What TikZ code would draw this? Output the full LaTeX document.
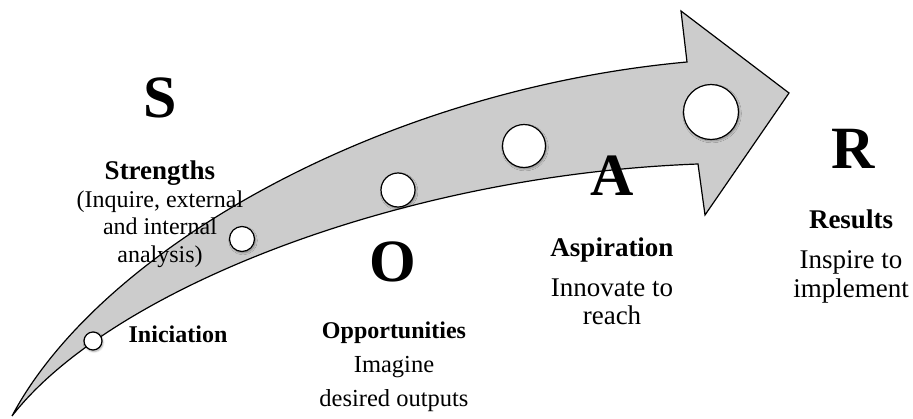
\documentclass[tikz,border=0pt]{standalone}
\usepackage{fontspec}
\setmainfont{Liberation Serif}
\usetikzlibrary{shadows.blur}
\definecolor{bodygray}{HTML}{CCCCCC}

\begin{document}
\begin{tikzpicture}[x=1pt, y=-1pt,
  body/.style={draw, line width=1.2pt, fill=bodygray, line join=miter},
  dot/.style={circle, draw, line width=1.2pt, fill=white, inner sep=0pt,
    blur shadow={shadow xshift=1pt, shadow yshift=-1.5pt, shadow blur steps=6, shadow opacity=35}},
  letter/.style={font=\fontsize{60}{60}\selectfont\bfseries, inner sep=0pt, anchor=base},
  title/.style={font=\fontsize{27}{30}\selectfont\bfseries, inner sep=0pt, anchor=base},
  desc/.style={inner sep=0pt, anchor=base, align=center}
]
  \useasboundingbox (0,0) rectangle (913,418);
  % curved arrow
  \draw[body] (12,416) .. controls (100,250) and (380,90) .. (687,62) -- (681,11) -- (789,93)
    -- (705,215) -- (698,164) .. controls (400,175) and (110,290) .. (12,416) -- cycle;
  % steps on the arrow
  \node[dot, minimum size=18pt] (d1) at (93,341) {};
  \node[dot, minimum size=25pt] (d2) at (242,239) {};
  \node[dot, minimum size=34pt] (d3) at (398,190) {};
  \node[dot, minimum size=43pt] (d4) at (524,146) {};
  \node[dot, minimum size=55pt] (d5) at (711,112) {};
  % S (base of a multi-line node = its last line)
  \node[letter] (s) at (160,117) {S};
  \node[title] (sT) at (160,179) {Strengths};
  \node[desc, font=\fontsize{24}{27.5}\selectfont] (sD) at (160,262) {(Inquire, external\\and internal\\analysis)};
  \node[title, font=\fontsize{24}{27}\selectfont\bfseries] (ini) at (178,342) {Iniciation};
  % O
  \node[letter] (o) at (393,281) {O};
  \node[title, font=\fontsize{24}{27}\selectfont\bfseries] (oT) at (394,338) {Opportunities};
  \node[desc, font=\fontsize{24.5}{33.5}\selectfont] (oD) at (394,406) {Imagine\\desired outputs};
  % A
  \node[letter] (a) at (612,195) {A};
  \node[title] (aT) at (612,256) {Aspiration};
  \node[desc, font=\fontsize{27}{28}\selectfont] (aD) at (612,324) {Innovate to\\reach};
  % R
  \node[letter] (r) at (853,168) {R};
  \node[title] (rT) at (851,228) {Results};
  \node[desc, font=\fontsize{27}{29}\selectfont] (rD) at (851,297) {Inspire to\\implement};
\end{tikzpicture}
\end{document}
